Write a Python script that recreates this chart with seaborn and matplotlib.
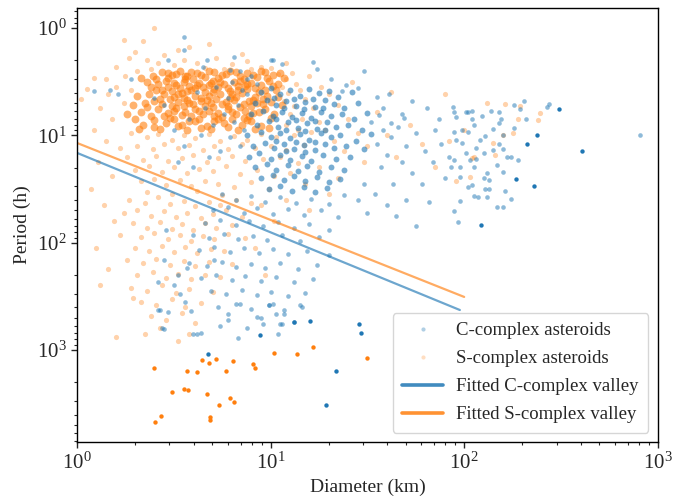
import numpy as np
import pandas as pd
import matplotlib
matplotlib.use("Agg")
import matplotlib.pyplot as plt
import seaborn as sns
from matplotlib.lines import Line2D

# ---- data: (log10 diameter km, log10 period h) ----

# S-complex cloud, dense part
s_core = [
    (0.44,0.41),(0.49,0.44),(0.53,0.40),(0.57,0.45),(0.62,0.42),(0.66,0.46),(0.71,0.41),(0.75,0.44),(0.79,0.40),(0.84,0.45),
    (0.88,0.42),(0.93,0.46),(0.97,0.41),(1.01,0.44),(0.47,0.47),(0.60,0.48),(0.73,0.47),(0.86,0.48),(0.39,0.45),(1.05,0.42),
    (0.42,0.52),(0.46,0.49),(0.51,0.53),(0.55,0.50),(0.58,0.54),(0.63,0.51),(0.68,0.53),(0.70,0.49),(0.76,0.52),(0.81,0.50),
    (0.83,0.54),(0.90,0.51),(0.95,0.53),(0.99,0.49),(1.04,0.52),(0.53,0.56),(0.65,0.55),(0.78,0.56),(0.92,0.56),(0.36,0.50),
    (0.41,0.58),(0.45,0.62),(0.49,0.59),(0.54,0.61),(0.59,0.58),(0.61,0.63),(0.66,0.60),(0.71,0.57),(0.74,0.62),(0.79,0.59),
    (0.85,0.61),(0.88,0.57),(0.94,0.60),(0.98,0.63),(1.03,0.58),(0.50,0.64),(0.64,0.65),(0.82,0.64),(0.96,0.66),(0.37,0.62),
    (0.40,0.68),(0.44,0.71),(0.48,0.66),(0.52,0.69),(0.57,0.67),(0.60,0.71),(0.64,0.68),(0.69,0.70),(0.72,0.66),(0.77,0.69),
    (0.81,0.67),(0.86,0.71),(0.89,0.68),(0.93,0.70),(1.00,0.69),(0.55,0.73),(0.70,0.74),(0.84,0.74),(1.06,0.72),(0.35,0.70),
    (0.42,0.76),(0.47,0.79),(0.51,0.75),(0.56,0.78),(0.61,0.76),(0.65,0.80),(0.68,0.77),(0.73,0.79),(0.78,0.76),(0.82,0.80),
    (0.87,0.77),(0.91,0.79),(0.97,0.76),(1.02,0.80),(0.45,0.82),(0.59,0.82),(0.75,0.83),(0.89,0.82),(0.33,0.78),(0.38,0.82),
    (0.40,0.86),(0.46,0.89),(0.50,0.85),(0.54,0.90),(0.58,0.87),(0.63,0.85),(0.67,0.91),(0.71,0.87),(0.76,0.89),(0.80,0.85),
    (0.85,0.90),(0.90,0.87),(0.95,0.91),(0.43,0.94),(0.57,0.95),(0.69,0.94),(0.83,0.95),(0.99,0.93),(0.34,0.90),(0.30,0.85),
    (0.51,0.43),(0.64,0.44),(0.77,0.43),(0.91,0.44),(0.56,0.48),(0.69,0.51),(0.84,0.49),(0.98,0.47),(0.47,0.55),(0.61,0.56),
    (0.73,0.55),(0.87,0.54),(0.52,0.62),(0.68,0.63),(0.80,0.62),(0.92,0.64),(0.58,0.70),(0.75,0.71),(0.90,0.73),(0.49,0.73),
    (0.63,0.77),(0.80,0.78),(0.94,0.78),(0.54,0.81),(0.71,0.82),(0.86,0.84),
    (0.33,0.47),(0.38,0.55),(0.31,0.63),(0.36,0.74),(0.29,0.72),(0.41,0.48),(0.26,0.80),(0.32,0.94),(0.47,0.42),(0.59,0.41),
    (0.68,0.40),(0.82,0.41),(0.95,0.40),(1.07,0.47),(0.44,0.58),(0.57,0.59),(0.70,0.60),(0.83,0.58),(0.97,0.58),(0.43,0.66),
    (0.55,0.65),(0.67,0.67),(0.79,0.65),(0.91,0.67),(1.04,0.64),(0.50,0.77),(0.66,0.73),(0.78,0.73),(0.96,0.71),(0.48,0.84),
    (0.61,0.87),(0.73,0.85),(0.88,0.86),(1.00,0.84),(0.52,0.91),(0.64,0.93),(0.78,0.92),(0.92,0.94),(0.40,0.92),(0.56,0.45),
    (0.74,0.50),(0.88,0.52),(1.01,0.54),(0.62,0.53),(0.50,0.51),
]
s_mid = [
    (0.28,0.98),(0.36,1.02),(0.42,0.99),(0.49,1.04),(0.55,1.00),(0.61,1.03),(0.68,0.99),(0.74,1.05),(0.81,1.01),(0.88,1.04),
    (0.95,0.99),(1.03,1.02),(1.12,1.00),(1.21,0.97),(0.31,1.10),(0.39,1.13),(0.45,1.08),(0.52,1.12),(0.58,1.09),(0.65,1.14),
    (0.71,1.10),(0.78,1.13),(0.85,1.08),(0.92,1.12),(1.00,1.10),(1.08,1.14),(1.17,1.09),(0.26,1.20),(0.34,1.23),(0.41,1.19),
    (0.47,1.24),(0.54,1.21),(0.60,1.18),(0.67,1.25),(0.73,1.21),(0.80,1.19),(0.87,1.24),(0.96,1.22),(1.05,1.20),(1.14,1.26),
    (0.30,1.32),(0.37,1.29),(0.44,1.34),(0.50,1.30),(0.57,1.35),(0.63,1.31),(0.70,1.33),(0.77,1.29),(0.84,1.36),(0.93,1.32),
    (1.02,1.38),(0.33,1.43),(0.40,1.41),(0.46,1.46),(0.53,1.42),(0.59,1.47),(0.66,1.43),(0.73,1.45),(0.81,1.48),(0.90,1.44),
    (0.99,1.50),(0.36,1.53),(0.49,1.55),(0.62,1.52),(0.75,1.56),
]
s_low = [
    (0.27,1.60),(0.35,1.63),(0.42,1.58),(0.48,1.64),(0.55,1.61),(0.61,1.66),(0.68,1.62),(0.74,1.65),(0.82,1.60),(0.90,1.63),
    (0.24,1.72),(0.31,1.70),(0.38,1.75),(0.45,1.71),(0.51,1.76),(0.57,1.72),(0.64,1.77),(0.70,1.73),(0.77,1.70),(0.85,1.76),
    (0.29,1.82),(0.36,1.86),(0.43,1.81),(0.49,1.87),(0.54,1.83),(0.60,1.88),(0.66,1.82),(0.72,1.86),(0.80,1.84),
    (0.22,1.93),(0.33,1.95),(0.40,1.91),(0.47,1.97),(0.53,1.93),(0.59,1.99),(0.65,1.94),(0.71,1.97),(0.78,1.92),(0.87,1.96),
    (0.30,2.05),(0.37,2.08),(0.44,2.03),(0.50,2.09),(0.56,2.04),(0.62,2.10),(0.69,2.06),(0.76,2.08),
    (0.26,2.16),(0.34,2.19),(0.41,2.15),(0.48,2.21),(0.55,2.17),(0.61,2.22),(0.68,2.18),(0.80,2.20),
    (0.31,2.30),(0.39,2.27),(0.46,2.33),(0.52,2.29),(0.59,2.34),(0.66,2.30),(0.74,2.32),
    (0.28,2.42),(0.36,2.45),(0.44,2.40),(0.51,2.47),(0.58,2.43),(0.70,2.46),
    (0.33,2.55),(0.41,2.58),(0.49,2.53),(0.56,2.60),(0.64,2.56),
    (0.38,2.68),(0.46,2.72),(0.54,2.66),(0.61,2.75),(0.43,2.80),
    (0.20,2.88),(0.29,2.52),(0.35,2.85),(0.52,2.92),(0.58,2.85),
]
s_edge = [
    (0.40,0.00),(0.24,0.11),(0.34,0.12),(0.27,0.28),(0.36,0.30),(0.68,0.15),(0.52,0.21),(0.02,0.66),(0.05,0.57),(0.09,0.47),
    (0.15,0.48),(0.20,0.36),(0.30,0.22),(0.45,0.25),(0.55,0.30),(0.62,0.33),(0.72,0.28),(0.80,0.34),(0.88,0.31),(0.95,0.36),
    (0.50,0.35),(0.42,0.33),(0.66,0.37),(0.76,0.38),(0.90,0.38),(1.00,0.37),(1.08,0.33),(0.58,0.18),(0.85,0.24),(0.38,0.38),
    (0.31,0.40),(0.25,0.45),(0.20,0.55),(0.28,0.58),(0.16,0.62),(0.24,0.70),(0.12,0.75),(0.18,0.85),(0.09,0.95),(0.15,1.05),
    (0.22,1.12),(0.11,1.25),(0.18,1.38),(0.07,1.50),(0.14,1.65),(0.19,1.80),(0.10,2.05),(0.16,2.25),(0.12,2.40),
]
s_right = [
    (1.04,0.43),(1.08,0.48),(1.11,0.42),(1.06,0.55),(1.13,0.52),(1.09,0.61),(1.15,0.58),(1.07,0.68),(1.12,0.73),(1.18,0.66),
    (1.10,0.80),(1.16,0.85),(1.22,0.75),(1.08,0.90),(1.14,0.95),(1.25,0.88),(1.20,0.45),(1.26,0.55),(1.30,0.62),(1.35,0.72),
    (1.28,0.95),(1.33,1.05),(1.40,0.85),(1.45,0.98),(1.38,1.15),(1.50,1.10),(1.55,0.78),(1.60,1.00),(1.48,1.25),(1.65,1.20),
    (1.72,0.90),(1.78,1.08),(1.85,1.30),(1.92,1.05),(2.00,0.95),(2.05,1.20),(2.12,0.70),(2.20,1.00),(2.28,0.85),(1.42,0.50),
    (1.62,0.60),(1.90,0.62),(1.25,1.30),(1.35,1.40),(1.18,1.45),(1.10,1.35),(1.30,1.55),(1.08,1.60),(1.20,1.70),(0.95,1.65),
    (1.02,1.80),(0.92,2.05),(0.97,2.30),(2.39,0.79),(2.38,0.86),(2.21,0.71),(2.29,0.73),(2.25,0.98),(2.15,1.07),(2.16,1.18),
    (2.03,1.39),(1.96,1.43),(2.04,1.21),
]
# S-complex isolated points below the cloud
s_sparse = [
    (0.396,3.169),(0.647,3.097),(0.683,3.125),(0.716,3.085),(0.805,3.106),(0.569,3.197),(0.620,3.209),(0.768,3.197),
    (0.909,3.131),(0.919,3.171),(1.015,3.029),(1.134,3.035),(1.220,2.973),(1.499,3.073),(0.492,3.390),(0.552,3.367),
    (0.575,3.377),(0.670,3.414),(0.791,3.445),(0.809,3.483),(0.735,3.511),(0.434,3.619),(0.404,3.669),(0.687,3.628),
    (0.687,3.653),
]

# C-complex cloud, dense part
c_core = [
    (0.95,0.60),(1.00,0.56),(1.05,0.62),(1.10,0.58),(1.15,0.63),(1.20,0.57),(1.25,0.61),(1.30,0.59),(1.35,0.64),(1.42,0.60),
    (0.92,0.70),(0.98,0.67),(1.03,0.72),(1.08,0.68),(1.13,0.73),(1.18,0.69),(1.23,0.74),(1.28,0.67),(1.33,0.71),(1.38,0.75),
    (1.45,0.70),(0.90,0.80),(0.96,0.77),(1.01,0.82),(1.06,0.78),(1.11,0.83),(1.16,0.79),(1.21,0.84),(1.26,0.78),(1.31,0.82),
    (1.37,0.80),(1.43,0.85),(1.50,0.79),(0.93,0.90),(0.99,0.87),(1.04,0.92),(1.09,0.88),(1.14,0.93),(1.19,0.89),(1.24,0.94),
    (1.29,0.88),(1.34,0.92),(1.40,0.90),(1.47,0.95),(0.88,1.00),(0.95,0.97),(1.00,1.02),(1.05,0.98),(1.10,1.03),(1.15,0.99),
    (1.20,1.04),(1.26,0.98),(1.31,1.02),(1.36,1.00),(1.44,1.05),(1.52,0.99),(0.91,1.10),(0.97,1.07),(1.02,1.12),(1.07,1.08),
    (1.12,1.13),(1.17,1.09),(1.23,1.14),(1.28,1.08),(1.33,1.12),(1.39,1.10),(1.48,1.13),(0.89,1.20),(0.94,1.17),(1.00,1.22),
    (1.05,1.18),(1.10,1.23),(1.16,1.19),(1.21,1.24),(1.27,1.18),(1.34,1.22),(1.41,1.20),(0.92,1.30),(0.98,1.27),(1.03,1.32),
    (1.09,1.28),(1.14,1.33),(1.19,1.29),(1.25,1.34),(1.31,1.30),(1.38,1.32),(0.95,1.40),(1.01,1.37),(1.07,1.42),(1.12,1.38),
    (1.18,1.43),(1.24,1.39),(1.30,1.44),(1.36,1.41),(0.99,1.50),(1.05,1.47),(1.11,1.52),(1.17,1.48),(1.23,1.53),(1.29,1.49),
    (1.02,0.65),(1.12,0.66),(1.22,0.66),(1.07,0.75),(1.17,0.76),(1.27,0.75),(1.03,0.85),(1.13,0.86),(1.23,0.87),(1.08,0.95),
    (1.18,0.96),(1.28,0.95),(1.03,1.05),(1.13,1.06),(1.23,1.06),(1.08,1.15),(1.18,1.16),
]
c_mixed = [
    (0.80,0.50),(0.85,0.58),(0.78,0.65),(0.83,0.72),(0.88,0.62),(0.76,0.80),(0.81,0.88),(0.86,0.95),(0.79,1.02),(0.84,1.10),
    (0.74,1.15),(0.70,0.90),(0.66,0.75),(0.62,0.60),(0.58,0.85),(0.64,1.00),(0.55,1.10),(0.68,1.20),(0.60,1.30),(0.72,0.55),
    (0.50,0.95),(0.45,0.72),(0.40,0.65),(0.52,1.25),(0.88,0.48),(0.93,0.52),(0.90,0.45),
]
c_top = [
    (0.55,0.08),(0.55,0.21),(0.47,0.30),(0.67,0.30),(0.81,0.27),(0.79,0.39),(0.84,0.40),(1.00,0.30),(0.09,0.59),(0.17,0.58),
    (0.21,0.62),(0.28,0.48),(0.65,0.36),(1.01,0.30),(1.06,0.34),(1.22,0.32),(1.24,0.38),(1.48,0.40),(1.45,0.56),(1.39,0.53),
    (1.31,0.48),(1.37,0.59),(1.55,0.64),(1.61,0.62),(1.73,0.68),(1.81,0.75),(1.94,0.74),(1.95,0.78),(2.02,0.78),(1.69,0.84),
    (1.62,0.89),(1.56,0.81),
]
c_right = [
    (2.31,0.68),(2.26,0.72),(2.44,0.71),(2.43,0.74),(2.29,0.76),(2.18,0.78),(2.14,0.77),(2.04,0.77),(2.01,0.78),(1.96,0.83),
    (2.09,0.82),(2.04,0.85),(2.19,0.85),(2.32,0.85),(2.26,0.93),(2.18,0.89),(2.15,0.94),(2.05,0.90),(2.02,0.97),(1.99,0.95),
    (1.95,0.97),(2.20,1.00),(2.11,1.01),(2.08,1.04),(1.96,1.04),(1.99,1.07),(2.18,1.08),(2.20,1.13),(2.10,1.17),(2.06,1.12),
    (2.01,1.17),(2.15,1.14),(2.22,1.20),(2.24,1.20),(2.28,1.23),(2.03,1.23),(2.06,1.22),(1.95,1.23),(1.98,1.30),(2.05,1.30),
    (2.12,1.35),(2.17,1.28),(2.20,1.34),(2.10,1.40),(2.13,1.42),(2.04,1.46),(2.02,1.48),(1.98,1.39),(2.11,1.50),(2.13,1.50),
    (2.05,1.57),(2.07,1.58),(2.12,1.58),(2.21,1.52),(2.24,1.59),(1.98,1.61),(1.95,1.71),(2.17,1.67),(2.20,1.67),(1.97,1.81),
    (1.93,1.30),(2.91,1.00),
    (1.52,0.88),(1.58,0.95),(1.55,1.08),(1.62,1.02),(1.60,1.18),(1.66,0.92),(1.70,1.10),(1.68,1.25),(1.75,0.98),(1.73,1.35),
    (1.80,1.15),(1.78,1.45),(1.85,0.95),(1.84,1.25),(1.88,1.08),(1.90,1.40),(1.57,1.30),(1.63,1.45),(1.54,1.55),(1.70,1.60),
    (1.82,1.62),(1.65,1.75),(1.75,1.85),(1.60,1.65),(1.48,1.45),(1.45,1.60),(1.50,1.72),(1.87,0.85),(1.92,1.20),(1.58,0.75),
    (1.68,0.80),
]
c_low = [
    (0.75,1.55),(0.82,1.60),(0.90,1.57),(0.97,1.62),(1.05,1.58),(1.13,1.63),(1.21,1.59),(1.30,1.64),(1.38,1.56),
    (0.70,1.70),(0.78,1.67),(0.86,1.72),(0.93,1.68),(1.01,1.73),(1.09,1.69),(1.17,1.74),(1.26,1.70),(1.35,1.76),
    (0.66,1.82),(0.74,1.79),(0.82,1.84),(0.89,1.80),(0.96,1.85),(1.04,1.81),(1.12,1.86),(1.20,1.83),(1.30,1.88),
    (0.60,1.93),(0.68,1.96),(0.76,1.92),(0.83,1.97),(0.91,1.94),(0.98,1.98),(1.06,1.93),(1.15,1.99),(1.25,1.95),
    (0.63,2.07),(0.71,2.04),(0.79,2.09),(0.86,2.05),(0.94,2.10),(1.01,2.06),(1.09,2.11),(1.19,2.08),(1.30,2.12),
    (0.58,2.19),(0.67,2.22),(0.75,2.18),(0.82,2.23),(0.90,2.20),(0.97,2.24),(1.05,2.19),(1.14,2.25),(1.24,2.21),
    (0.64,2.33),(0.72,2.30),(0.80,2.35),(0.87,2.31),(0.95,2.36),(1.03,2.32),(1.12,2.37),(1.22,2.34),
    (0.69,2.45),(0.77,2.48),(0.85,2.44),(0.93,2.49),(1.00,2.46),(1.09,2.50),(1.18,2.47),
    (0.73,2.60),(0.82,2.57),(0.90,2.62),(0.99,2.58),(1.07,2.63),(1.16,2.60),
    (0.56,2.55),(0.78,2.72),(0.95,2.70),(1.12,2.74),(0.50,2.40),(0.47,2.65),(0.62,2.85),(0.88,2.80),
    (0.43,2.63),(0.59,2.64),(0.45,2.81),(0.60,2.85),(0.64,2.84),(0.74,2.78),(0.83,2.89),(0.78,2.67),(0.84,2.57),(0.93,2.69),
    (0.96,2.76),(1.03,2.67),(1.05,2.76),(1.06,2.76),(1.07,2.67),(0.99,2.58),(1.01,2.57),(1.15,2.58),(1.04,2.85),
    (0.42,2.37),(0.44,2.80),(0.42,2.63),(0.53,2.48),(0.46,1.88),(0.57,2.24),(0.71,2.16),(0.52,2.30),(0.45,2.16),
]
# C-complex isolated points
c_sparse = [
    (0.678,3.041),(0.946,2.864),(1.122,2.743),(1.204,2.731),(1.459,2.756),(1.465,2.845),(1.336,3.197),(1.286,3.516),
    (2.488,0.758),(2.375,0.994),(2.323,1.078),(2.609,1.146),(2.268,1.407),(2.363,1.472),(2.089,1.836),
]

# fitted valley lines (diameter km, period h)
c_fit_d = [1.0, 95.0]
c_fit_p = [14.6, 425.0]
s_fit_d = [1.0, 100.0]
s_fit_p = [11.8, 321.0]


def to_frame(*groups):
    arr = np.array([pt for g in groups for pt in g])
    return pd.DataFrame({"D": 10 ** arr[:, 0], "P": 10 ** arr[:, 1]})


s_dense = to_frame(s_core)
s_df = to_frame(s_mid, s_low, s_edge, s_right)
c_dense = to_frame(c_core)
c_df = to_frame(c_mixed, c_top, c_right, c_low)
s_out = to_frame(s_sparse)
c_out = to_frame(c_sparse)

sns.set_theme(style="ticks")
plt.rcParams["font.family"] = ["Liberation Serif", "DejaVu Serif"]
plt.rcParams["mathtext.fontset"] = "stix"

blue = "#1f77b4"
orange = "#ff7f0e"

fig = plt.figure(figsize=(6.88, 5.0), dpi=100)
ax = fig.add_axes([0.112, 0.116, 0.844, 0.868])

sns.scatterplot(data=s_df, x="D", y="P", color=orange, s=14, alpha=0.35,
                linewidth=0, ax=ax)
sns.scatterplot(data=s_dense, x="D", y="P", color=orange, s=32, alpha=0.6,
                linewidth=0, ax=ax)
sns.scatterplot(data=c_df, x="D", y="P", color=blue, s=11, alpha=0.5,
                linewidth=0, ax=ax)
sns.scatterplot(data=c_dense, x="D", y="P", color=blue, s=18, alpha=0.6,
                linewidth=0, ax=ax)
sns.scatterplot(data=s_out, x="D", y="P", color=orange, s=10, alpha=1,
                linewidth=0, ax=ax)
sns.scatterplot(data=c_out, x="D", y="P", color=blue, s=10, alpha=1,
                linewidth=0, ax=ax)

sns.lineplot(x=c_fit_d, y=c_fit_p, color=blue, alpha=0.65, linewidth=1.6, ax=ax)
sns.lineplot(x=s_fit_d, y=s_fit_p, color=orange, alpha=0.65, linewidth=1.6, ax=ax)

ax.set_xscale("log")
ax.set_yscale("log")
ax.set_xlim(1, 1000)
ax.set_ylim(7216, 0.652)

ax.set_xlabel("Diameter (km)", fontsize=14)
ax.set_ylabel("Period (h)", fontsize=14)
ax.tick_params(axis="both", which="major", labelsize=15, length=4, width=1)
ax.tick_params(axis="both", which="minor", length=2.5, width=0.8)
for sp in ax.spines.values():
    sp.set_color("black")
    sp.set_linewidth(1.0)

handles = [
    Line2D([], [], marker="o", linestyle="none", color=blue, alpha=0.35, markersize=3,
           markeredgewidth=0),
    Line2D([], [], marker="o", linestyle="none", color=orange, alpha=0.25, markersize=3,
           markeredgewidth=0),
    Line2D([], [], color=blue, linewidth=2.6, alpha=0.85),
    Line2D([], [], color=orange, linewidth=2.6, alpha=0.85),
]
labels = ["C-complex asteroids", "S-complex asteroids",
          "Fitted C-complex valley", "Fitted S-complex valley"]
ax.legend(handles, labels, loc="lower right", fontsize=13.5, frameon=True,
          borderpad=0.5, labelspacing=0.58, handlelength=2.2, handletextpad=0.7)

fig.savefig("out.png", dpi=100)
